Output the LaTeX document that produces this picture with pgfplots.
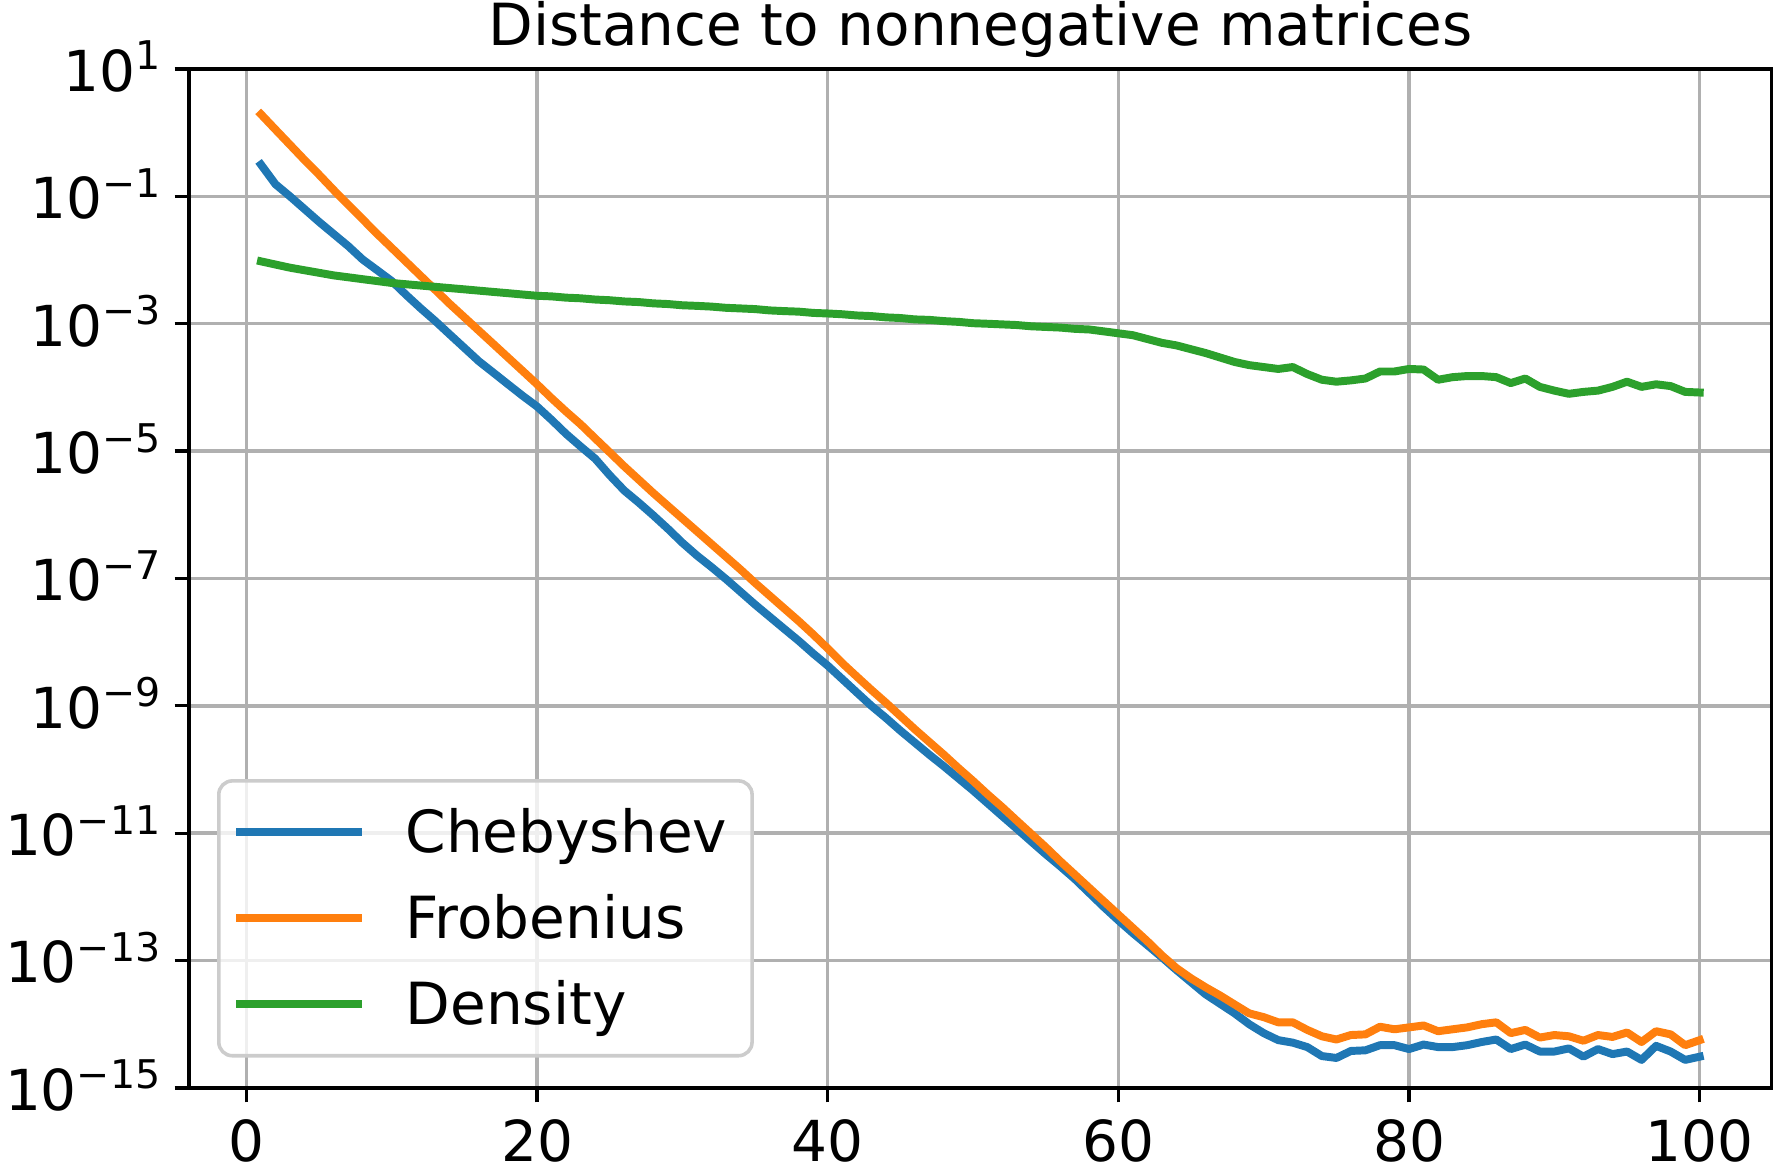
\documentclass[border=0pt]{standalone}
\usepackage{fontspec}
\setmainfont{DejaVu Sans}
\usepackage{pgfplots}
\pgfplotsset{compat=1.18}
\usepackage{pgfplotstable}
\definecolor{cblue}{HTML}{1F77B4}
\definecolor{corange}{HTML}{FF7F0E}
\definecolor{cgreen}{HTML}{2CA02C}
\definecolor{gridgray}{HTML}{B0B0B0}
\definecolor{legedge}{HTML}{CCCCCC}
\newcommand{\tfont}{\fontsize{14.2}{17}\selectfont}
\newcommand{\lfont}{\fontsize{14.6}{17}\selectfont}
\newcommand{\tp}[1]{10\raisebox{0.378em}{\fontsize{9.94}{11}\selectfont #1}}

\pgfplotstableread{
x cheb frob dens
1 3.16e-1 1.95e0 9.55e-3
2 1.55e-1 1.12e0 8.51e-3
3 1.00e-1 6.46e-1 7.59e-3
4 6.31e-2 3.72e-1 6.92e-3
5 3.98e-2 2.19e-1 6.31e-3
6 2.57e-2 1.26e-1 5.75e-3
7 1.66e-2 7.41e-2 5.37e-3
8 1.02e-2 4.37e-2 5.01e-3
9 6.92e-3 2.57e-2 4.68e-3
10 4.68e-3 1.55e-2 4.37e-3
11 2.82e-3 9.33e-3 4.17e-3
12 1.74e-3 5.62e-3 3.98e-3
13 1.10e-3 3.39e-3 3.80e-3
14 6.76e-4 2.04e-3 3.63e-3
15 4.17e-4 1.26e-3 3.47e-3
16 2.57e-4 7.76e-4 3.31e-3
17 1.70e-4 4.79e-4 3.16e-3
18 1.12e-4 2.95e-4 3.02e-3
19 7.41e-5 1.82e-4 2.88e-3
20 5.01e-5 1.12e-4 2.75e-3
21 3.09e-5 6.76e-5 2.69e-3
22 1.86e-5 4.17e-5 2.57e-3
23 1.18e-5 2.63e-5 2.51e-3
24 7.59e-6 1.58e-5 2.40e-3
25 4.17e-6 9.55e-6 2.34e-3
26 2.40e-6 5.75e-6 2.24e-3
27 1.55e-6 3.55e-6 2.19e-3
28 9.77e-7 2.19e-6 2.09e-3
29 6.03e-7 1.38e-6 2.04e-3
30 3.63e-7 8.71e-7 1.95e-3
31 2.29e-7 5.50e-7 1.91e-3
32 1.51e-7 3.47e-7 1.86e-3
33 9.77e-8 2.19e-7 1.78e-3
34 6.17e-8 1.38e-7 1.74e-3
35 3.89e-8 8.51e-8 1.70e-3
36 2.51e-8 5.37e-8 1.62e-3
37 1.62e-8 3.39e-8 1.58e-3
38 1.05e-8 2.14e-8 1.55e-3
39 6.61e-9 1.32e-8 1.48e-3
40 4.27e-9 7.94e-9 1.45e-3
41 2.63e-9 4.68e-9 1.41e-3
42 1.62e-9 2.88e-9 1.35e-3
43 1.00e-9 1.78e-9 1.32e-3
44 6.46e-10 1.12e-9 1.26e-3
45 4.07e-10 6.92e-10 1.23e-3
46 2.63e-10 4.27e-10 1.17e-3
47 1.70e-10 2.69e-10 1.15e-3
48 1.12e-10 1.70e-10 1.10e-3
49 7.24e-11 1.05e-10 1.07e-3
50 4.68e-11 6.61e-11 1.02e-3
51 2.95e-11 4.07e-11 1.00e-3
52 1.86e-11 2.57e-11 9.77e-4
53 1.18e-11 1.58e-11 9.55e-4
54 7.41e-12 9.77e-12 9.12e-4
55 4.68e-12 6.03e-12 8.91e-4
56 3.02e-12 3.63e-12 8.71e-4
57 1.91e-12 2.24e-12 8.32e-4
58 1.15e-12 1.38e-12 8.13e-4
59 6.92e-13 8.51e-13 7.59e-4
60 4.27e-13 5.25e-13 7.08e-4
61 2.69e-13 3.24e-13 6.61e-4
62 1.74e-13 2.00e-13 5.75e-4
63 1.12e-13 1.20e-13 5.01e-4
64 7.08e-14 7.59e-14 4.57e-4
65 4.57e-14 5.25e-14 3.98e-4
66 2.95e-14 3.80e-14 3.47e-4
67 2.09e-14 2.82e-14 2.95e-4
68 1.48e-14 2.04e-14 2.51e-4
69 1.00e-14 1.48e-14 2.24e-4
70 7.24e-15 1.29e-14 2.09e-4
71 5.62e-15 1.07e-14 1.95e-4
72 5.13e-15 1.07e-14 2.09e-4
73 4.37e-15 8.13e-15 1.62e-4
74 3.16e-15 6.46e-15 1.32e-4
75 2.95e-15 5.75e-15 1.23e-4
76 3.80e-15 6.76e-15 1.29e-4
77 3.89e-15 6.92e-15 1.38e-4
78 4.68e-15 9.12e-15 1.78e-4
79 4.68e-15 8.32e-15 1.78e-4
80 4.07e-15 8.91e-15 1.95e-4
81 4.79e-15 9.55e-15 1.91e-4
82 4.37e-15 7.76e-15 1.32e-4
83 4.37e-15 8.32e-15 1.45e-4
84 4.68e-15 8.91e-15 1.51e-4
85 5.25e-15 1.00e-14 1.51e-4
86 5.75e-15 1.07e-14 1.45e-4
87 4.07e-15 7.24e-15 1.17e-4
88 4.79e-15 8.13e-15 1.38e-4
89 3.72e-15 6.17e-15 1.02e-4
90 3.72e-15 6.76e-15 8.91e-5
91 4.17e-15 6.46e-15 7.94e-5
92 3.09e-15 5.50e-15 8.51e-5
93 4.07e-15 6.76e-15 8.91e-5
94 3.39e-15 6.31e-15 1.02e-4
95 3.72e-15 7.41e-15 1.23e-4
96 2.75e-15 5.25e-15 1.02e-4
97 4.57e-15 7.76e-15 1.12e-4
98 3.72e-15 6.92e-15 1.05e-4
99 2.75e-15 4.68e-15 8.51e-5
100 3.09e-15 5.62e-15 8.32e-5
}\datatable

\begin{document}
\begin{tikzpicture}
\useasboundingbox (-1.67,-0.76) rectangle (14.01,9.61);
\begin{axis}[
  scale only axis, width=13.98cm, height=9cm,
  at={(0,0)}, anchor=south west,
  ymode=log, log basis y=10,
  xmin=-3.95, xmax=104.95, ymin=1e-15, ymax=1e1,
  xtick={0,20,40,60,80,100},
  ytick={1e1,1e-1,1e-3,1e-5,1e-7,1e-9,1e-11,1e-13,1e-15},
  yticklabels={\tp{1},\tp{−1},\tp{−3},\tp{−5},\tp{−7},\tp{−9},\tp{−11},\tp{−13},\tp{−15}},
  minor tick length=0pt,
  tick pos=left, tick align=outside,
  major tick length=0.128cm,
  tick style={black, line width=0.83pt},
  axis line style={black, line width=0.83pt},
  grid=major, grid style={gridgray, line width=0.85pt},
  ticklabel style={font=\tfont},
  /pgf/number format/assume math mode=true,
  xticklabel style={anchor=base, inner sep=0pt, yshift=-0.52cm},
  yticklabel style={anchor=base east, inner sep=0pt, xshift=-0.118cm, yshift=-0.197cm},
  every axis title shift=0pt,
  title={Distance to nonnegative matrices},
  title style={font=\lfont, anchor=base, at={(0.5,1)}, yshift=0.207cm, inner sep=0pt},
  legend cell align=left,
  legend style={at={(0.01767,0.02978)}, anchor=south west, draw=legedge, line width=0.9pt,
    fill=white, fill opacity=0.8, text opacity=1, rounded corners=0.12cm,
    inner xsep=0.12cm, inner ysep=0.074cm, row sep=0pt, font=\lfont,
    /tikz/every odd column/.append style={column sep=0.35cm},
    nodes={inner sep=0pt, text height=0.56cm, text depth=0.20cm}},
  legend image code/.code={\draw[#1, line width=2pt, line cap=butt] (0cm,0cm) -- (1.11cm,0cm);},
  every axis plot/.append style={line width=2pt, line join=round, line cap=rect},
]
\addplot[cblue] table[x=x,y=cheb]{\datatable};
\addlegendentry{Chebyshev\hspace*{0.1cm}}
\addplot[corange] table[x=x,y=frob]{\datatable};
\addlegendentry{Frobenius}
\addplot[cgreen] table[x=x,y=dens]{\datatable};
\addlegendentry{Density}
\end{axis}
\end{tikzpicture}
\end{document}
